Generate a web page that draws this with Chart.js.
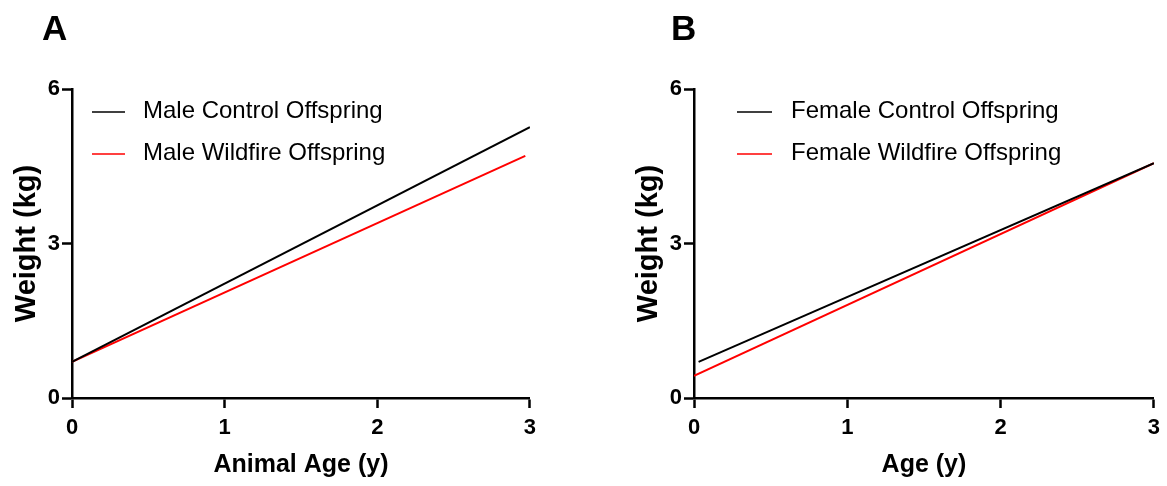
<!DOCTYPE html>
<html>
<head>
<meta charset="utf-8">
<script src="https://cdn.jsdelivr.net/npm/chart.js@4.4.0/dist/chart.umd.min.js"></script>
<style>
  html, body { margin: 0; padding: 0; background: #fff; }
  body { width: 1167px; height: 486px; position: relative; overflow: hidden; font-family: 'Liberation Sans', Arial, sans-serif; }
  .panel { position: absolute; top: 0; height: 486px; }
  .letter { position: absolute; top: 10px; font-weight: bold; font-size: 35px; line-height: 35px; color: #000; }
</style>
</head>
<body>
<div class="panel" style="left:0;width:543px"><canvas id="chartA"></canvas></div>
<div class="panel" style="left:622px;width:545px"><canvas id="chartB"></canvas></div>
<div class="letter" style="left:42px">A</div>
<div class="letter" style="left:671px">B</div>
<script>
// fitted lines (age in years, weight in kg)
const maleControlX = [0, 3];
const maleControlY = [0.70, 5.26];
const maleWildfireX = [0, 2.97];
const maleWildfireY = [0.70, 4.70];

const femaleControlX = [0.03, 3];
const femaleControlY = [0.70, 4.56];
const femaleWildfireX = [0, 3];
const femaleWildfireY = [0.43, 4.56];

const xTicks = [0, 1, 2, 3];
const yTicks = [0, 3, 6];

const FONT = "'Liberation Sans', Arial, sans-serif";
Chart.defaults.font.family = FONT;
Chart.defaults.color = '#000';

function points(xs, ys) {
  return xs.map((x, i) => ({x: x, y: ys[i]}));
}

// legend drawn inside the plot area, like the original
const legendInside = {
  id: 'legendInside',
  afterDraw(chart, args, opts) {
    const ctx = chart.ctx;
    const left = chart.chartArea.left;
    ctx.save();
    ctx.font = '24px ' + FONT;
    ctx.textBaseline = 'middle';
    chart.data.datasets.forEach((ds, i) => {
      const y = opts.rowY[i];
      ctx.strokeStyle = ds.borderColor;
      ctx.lineWidth = 1.5;
      ctx.beginPath();
      ctx.moveTo(left + opts.lineX0, y);
      ctx.lineTo(left + opts.lineX1, y);
      ctx.stroke();
      ctx.fillStyle = '#000';
      ctx.fillText(ds.label, left + opts.textX, y - 1);
    });
    ctx.restore();
  }
};

function make_chart(id, series, xTitle, rightPad, legendOpts) {
  const ctx = document.getElementById(id);
  const config = {
    type: 'line',
    data: {
      datasets: series.map(s => ({
        label: s.label,
        data: points(s.x, s.y),
        borderColor: s.color,
        borderWidth: 2,
        pointRadius: 0,
        tension: 0,
        fill: false
      }))
    },
    options: {
      responsive: true,
      maintainAspectRatio: false,
      animation: false,
      layout: {padding: {top: 89, right: rightPad, bottom: 0, left: 0}},
      plugins: {
        legend: {display: false},
        tooltip: {enabled: false},
        legendInside: legendOpts
      },
      scales: {
        x: {
          type: 'linear',
          min: 0,
          max: 3,
          afterBuildTicks: (axis) => { axis.ticks = xTicks.map(v => ({value: v})); },
          afterFit: (axis) => { axis.height = 88; },
          ticks: {font: {size: 22, weight: 'bold'}, padding: 7, color: '#000'},
          grid: {drawOnChartArea: false, drawTicks: true, tickLength: 10, tickWidth: 2.5, color: '#000'},
          border: {display: true, color: '#000', width: 2.5},
          title: {display: true, text: xTitle, font: {size: 25, weight: 'bold'}, padding: {bottom: 6}, color: '#000'}
        },
        y: {
          min: 0,
          max: 6,
          afterBuildTicks: (axis) => { axis.ticks = yTicks.map(v => ({value: v})); },
          afterFit: (axis) => { axis.width = 72; },
          ticks: {font: {size: 22, weight: 'bold'}, padding: 2, color: '#000'},
          grid: {drawOnChartArea: false, drawTicks: true, tickLength: 10, tickWidth: 2.5, color: '#000'},
          border: {display: true, color: '#000', width: 2.5},
          title: {display: true, text: 'Weight (kg)', font: {size: 29, weight: 'bold'}, padding: {top: 10}, color: '#000'}
        }
      }
    },
    plugins: [legendInside]
  };
  return new Chart(ctx, config);
}

make_chart('chartA', [
  {label: 'Male Control Offspring', x: maleControlX, y: maleControlY, color: '#000000'},
  {label: 'Male Wildfire Offspring', x: maleWildfireX, y: maleWildfireY, color: '#ff0000'}
], 'Animal Age (y)', 10, {rowY: [112, 154], lineX0: 20, lineX1: 53, textX: 71});

make_chart('chartB', [
  {label: 'Female Control Offspring', x: femaleControlX, y: femaleControlY, color: '#000000'},
  {label: 'Female Wildfire Offspring', x: femaleWildfireX, y: femaleWildfireY, color: '#ff0000'}
], 'Age (y)', 11, {rowY: [112, 154], lineX0: 43, lineX1: 78, textX: 97});
</script>
</body>
</html>
